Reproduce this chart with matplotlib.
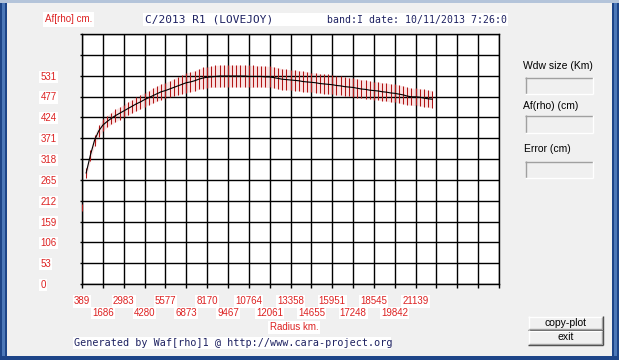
import numpy as np
import matplotlib
matplotlib.use("Agg")
from matplotlib import pyplot as plt
from matplotlib.patches import Rectangle

# axis steps as printed by the program
x_first = 389
x_step = 1296.875
y_step = 53.1
x_tick_labels = ["389", "1686", "2983", "4280", "5577", "6873", "8170", "9467",
                 "10764", "12061", "13358", "14655", "15951", "17248", "18545",
                 "19842", "21139"]
y_tick_labels = ["0", "53", "106", "159", "212", "265", "318", "371", "424",
                 "477", "531"]

# sampled profile, one point every fifth of a grid column
r_start = 648.4
r_step = 259.375
af_rho = [283, 328, 366, 390, 405, 414, 422, 429, 435, 441,
          447, 453, 459, 464, 470, 475, 480, 485, 490, 493,
          497, 501, 505, 509, 513, 515, 518, 522, 525, 527,
          528, 529, 530, 530, 530, 530, 530, 530, 530, 529,
          529, 529, 529, 528, 528, 526, 524, 522, 521, 520,
          519, 518, 516, 515, 514, 513, 511, 510, 509, 508,
          506, 505, 503, 502, 501, 499, 497, 496, 494, 493,
          492, 490, 489, 487, 486, 484, 482, 479, 477, 477,
          476, 474, 472, 471]
af_err = [13, 14, 14, 15, 15, 15, 15, 16, 16, 16,
          17, 17, 17, 18, 18, 18, 19, 19, 20, 20,
          21, 22, 23, 24, 25, 25, 26, 26, 27, 27,
          27, 28, 28, 28, 28, 28, 28, 28, 28, 28,
          28, 27, 27, 27, 27, 27, 27, 27, 26, 26,
          26, 26, 26, 26, 25, 25, 25, 25, 25, 25,
          25, 24, 24, 24, 24, 24, 24, 24, 23, 23,
          23, 23, 23, 23, 23, 23, 23, 22, 22, 22,
          22, 22, 22, 22]

# lone point sitting on the left edge
stray_r = [389]
stray_af = [196]
stray_err = [9]

title = "C/2013 R1 (LOVEJOY)"
band_date = "band:I date: 10/11/2013 7:26:0"
footer = "Generated by Waf[rho]1 @ http://www.cara-project.org"

W, H = 619, 360
RED = "#dd2222"
NAVY = "#1e2262"
SANS = "Liberation Sans"
MONO = "DejaVu Sans Mono"

fig = plt.figure(figsize=(W / 100, H / 100), dpi=100)
fig.patch.set_facecolor("#f0f0f0")

# window chrome, drawn in pixel coordinates
bg = fig.add_axes([0, 0, 1, 1])
bg.set_xlim(0, W)
bg.set_ylim(H, 0)
bg.axis("off")


def rect(x0, y0, x1, y1, color):
    bg.add_patch(Rectangle((x0, y0), x1 - x0, y1 - y0, fc=color, ec="none"))


def hline(y, x0, x1, color, lw=1.0):
    bg.plot([x0, x1], [y, y], color=color, lw=lw, solid_capstyle="butt")


def vline(x, y0, y1, color, lw=1.0):
    bg.plot([x, x], [y0, y1], color=color, lw=lw, solid_capstyle="butt")


rect(0, 0, 7, H, "#1d4588")
rect(2, 0, 5, H, "#4c78b8")
rect(612, 0, W, H, "#1d4588")
rect(614, 0, 617, H, "#4c78b8")
rect(0, 356, W, H, "#1d4588")
rect(0, 0, W, 3, "#b4c4da")

# header
bg.text(45, 19.5, "Af[rho] cm.", color=RED, fontsize=7, family=SANS,
        va="center", ha="left",
        bbox=dict(fc="white", ec="none", pad=1.5))
rect(143, 13, 508, 26, "white")
bg.text(145, 19.5, title, color=NAVY, fontsize=8, family=MONO,
        va="center", ha="left")
bg.text(507, 19.5, band_date, color=NAVY, fontsize=7.1, family=MONO,
        va="center", ha="right")

# footer
rect(73, 337, 391, 349, "white")
bg.text(74, 343.3, footer, color=NAVY, fontsize=7.25, family=MONO,
        va="center", ha="left")


# right panel: labels and sunken text boxes
def sunken(x0, y0, x1, y1):
    hline(y0 + 0.5, x0, x1, "#a0a0a0")
    vline(x0 + 0.5, y0, y1, "#a0a0a0")
    hline(y1 - 0.5, x0, x1, "white")
    vline(x1 - 0.5, y0, y1, "white")


def button(x0, y0, x1, y1, label):
    rect(x0, y0, x1, y1, "#f0f0f0")
    hline(y0 + 0.5, x0, x1, "white")
    vline(x0 + 0.5, y0, y1, "white")
    hline(y1 - 0.5, x0, x1, "#404040")
    vline(x1 - 0.5, y0, y1, "#404040")
    hline(y1 - 1.5, x0 + 1, x1 - 1, "#a0a0a0")
    vline(x1 - 1.5, y0 + 1, y1 - 1, "#a0a0a0")
    bg.text((x0 + x1) / 2, (y0 + y1) / 2, label, fontsize=7.5, family=SANS,
            ha="center", va="center", color="black")


bg.text(523, 66, "Wdw size (Km)", fontsize=7.5, family=SANS, va="center")
sunken(525, 77, 593, 94)
bg.text(523, 106, "Af(rho) (cm)", fontsize=7.5, family=SANS, va="center")
sunken(525, 115, 593, 133)
bg.text(524, 149.5, "Error (cm)", fontsize=7.5, family=SANS, va="center")
sunken(525, 161, 593, 178)

button(528, 316, 603, 330, "copy-plot")
button(528, 330, 603, 345, "exit")

bg.text(294, 327.5, "Radius km.", color=RED, fontsize=7, family=SANS,
        ha="center", va="center",
        bbox=dict(fc="white", ec="none", pad=1.0))

# plot area
ax = fig.add_axes([82 / W, 1 - 284 / H, 417 / W, 250 / H])
ax.set_facecolor("white")
ax.set_xlim(x_first, x_first + 20 * x_step)
ax.set_ylim(0, 12 * y_step)

r = r_start + r_step * np.arange(len(af_rho))
af = np.array(af_rho)
err = np.array(af_err)

ax.fill_between(r, af - err, af + err, color="#fbe3e3", lw=0, zorder=0.3)
ax.vlines(r, af - err, af + err, color="#b01515", lw=0.75, zorder=3)
ax.plot(r, af, color="black", lw=0.8, zorder=4)
ax.vlines(stray_r, np.array(stray_af) - stray_err,
          np.array(stray_af) + stray_err, color="#b01515", lw=0.75,
          zorder=3, clip_on=False)

ax.set_xticks(x_first + x_step * np.arange(21))
ax.set_xticklabels(x_tick_labels + [""] * 4, color=RED, fontsize=7,
                   family=SANS, bbox=dict(fc="white", ec="none", pad=0.8))
ax.set_yticks(y_step * np.arange(13))
ax.set_yticklabels(y_tick_labels + [""] * 2, color=RED, fontsize=7,
                   family=SANS, ha="left",
                   bbox=dict(fc="white", ec="none", pad=0.8))

ax.grid(True, color="black", lw=1.0)
ax.set_axisbelow(True)
for s in ax.spines.values():
    s.set_color("black")
    s.set_linewidth(1.0)

ax.tick_params(axis="x", direction="out", length=3, width=1.0, color="black")
ax.tick_params(axis="y", direction="out", length=1.5, width=1.0,
               color="black", pad=28.5)
for i, tick in enumerate(ax.xaxis.get_major_ticks()):
    tick.set_pad(6.0 if i % 2 == 0 else 14.2)

fig.savefig("out.png", dpi=100, facecolor=fig.get_facecolor())
